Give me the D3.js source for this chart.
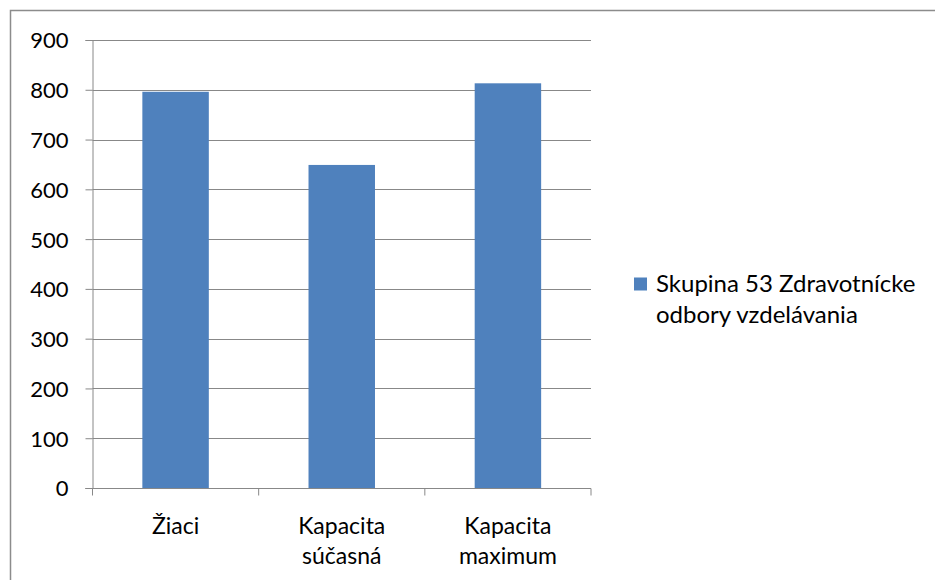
<!DOCTYPE html>
<html><head><meta charset="utf-8">
<script src="https://cdn.jsdelivr.net/npm/d3@7"></script>
<style>body{margin:0;background:#fff}svg{display:block}text{font-family:Lato,"Noto Sans",sans-serif;fill:#000}</style>
</head><body>
<script>
const categories = [["Žiaci"], ["Kapacita", "súčasná"], ["Kapacita", "maximum"]];
const values = [796, 649, 813];
const yTicks = [0, 100, 200, 300, 400, 500, 600, 700, 800, 900];
const seriesName = ["Skupina 53 Zdravotnícke", "odbory vzdelávania"];

(function () {
const W = 935, H = 580;
const svg = d3.select("body").append("svg").attr("width", W).attr("height", H);
svg.append("rect").attr("x", 10.5).attr("y", 10.5).attr("width", 1000).attr("height", 1000)
  .attr("fill", "none").attr("stroke", "#8c8c8c").attr("stroke-width", 1.5);

const pl = 92.5, pr = 591, pt = 40, pb = 488;
const x = d3.scaleBand().domain(d3.range(categories.length)).range([pl, pr]).paddingInner(0.6).paddingOuter(0.3);
const xc = d3.scaleBand().domain(d3.range(categories.length)).range([pl, pr]);
const y = d3.scaleLinear().domain([0, 900]).range([pb, pt]);

const grid = svg.append("g");
grid.selectAll("line").data(yTicks.filter(d => d > 0)).join("line")
  .attr("x1", pl).attr("x2", pr).attr("y1", d => Math.round(y(d)) + 0.5).attr("y2", d => Math.round(y(d)) + 0.5)
  .attr("stroke", "#888").attr("stroke-width", 1);

svg.append("g").selectAll("rect").data(values).join("rect")
  .attr("x", (d, i) => x(i)).attr("width", x.bandwidth())
  .attr("y", d => y(d)).attr("height", d => y(0) - y(d))
  .attr("fill", "#4F81BD");

const yAxis = svg.append("g").attr("transform", `translate(${pl},0)`)
  .call(d3.axisLeft(y).tickValues(yTicks).tickSize(7).tickPadding(17));
yAxis.select(".domain").attr("stroke", "#888");
yAxis.selectAll(".tick line").attr("stroke", "#888");
yAxis.selectAll(".tick text").style("font-size", "22px").attr("fill", "#000").attr("dy", "0.36em");

const xAxis = svg.append("g").attr("transform", `translate(0,${Math.round(pb) + 0.5})`);
xAxis.append("line").attr("x1", pl - 7).attr("x2", pr).attr("stroke", "#888");
const tickPos = d3.range(categories.length + 1).map(i => pl + i * xc.step());
xAxis.selectAll("line.t").data(tickPos).join("line").attr("class", "t")
  .attr("x1", d => d).attr("x2", d => d).attr("y1", 0).attr("y2", 7).attr("stroke", "#888");
xAxis.selectAll("text").data(categories).join("text")
  .attr("text-anchor", "middle").style("font-size", "23px")
  .attr("transform", (d, i) => `translate(${xc(i) + xc.bandwidth() / 2},45)`)
  .selectAll("tspan").data(d => d).join("tspan")
  .attr("x", 0).attr("dy", (d, i) => i === 0 ? 0 : 30).text(d => d);

const lg = svg.append("g");
lg.append("rect").attr("x", 634).attr("y", 277.5).attr("width", 13).attr("height", 13).attr("fill", "#4F81BD");
lg.append("text").style("font-size", "24px").selectAll("tspan").data(seriesName).join("tspan")
  .attr("x", 656).attr("y", (d, i) => 292 + i * 31).text(d => d);
})();
</script>
</body></html>
